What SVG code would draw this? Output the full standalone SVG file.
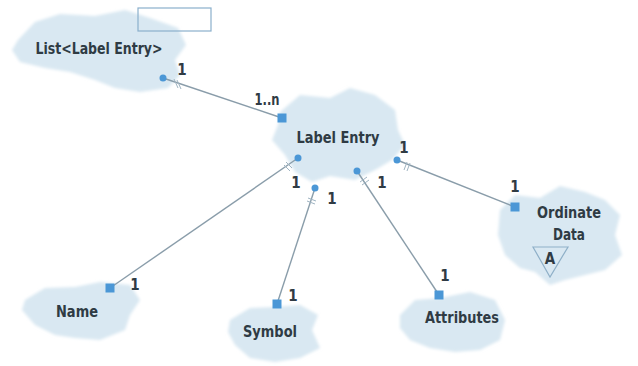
<svg xmlns="http://www.w3.org/2000/svg" width="638" height="366" viewBox="0 0 638 366">
<defs>
<filter id="soft" x="-10%" y="-10%" width="120%" height="120%"><feGaussianBlur stdDeviation="1.6"/></filter>
<style>
.cloud{fill:#d9e8f2;filter:url(#soft)}
.lbl{font-family:"Liberation Sans Narrow","DejaVu Sans Condensed","Liberation Sans",Arial,sans-serif;font-weight:bold;font-size:16px;fill:#2f3b44;text-anchor:middle}
.num{font-family:"Liberation Sans Narrow","DejaVu Sans Condensed","Liberation Sans",Arial,sans-serif;font-weight:bold;font-size:15px;fill:#2f3b44;text-anchor:middle}
.ln{stroke:#8a9daa;stroke-width:1.4;fill:none}
.tick{stroke:#9fb4c2;stroke-width:1;fill:none}
.dot{fill:#4b97d6}
.sq{fill:#4b97d6}
</style>
</defs>
<rect width="638" height="366" fill="#ffffff"/>

<g id="list">
<polygon class="cloud" points="18,40 35,22 60,14 95,16 125,10 150,18 178,28 186,45 175,60 180,75 168,88 140,92 115,88 95,80 70,72 45,68 20,62 12,50"/>
<rect x="138" y="8" width="73" height="23" fill="none" stroke="#8ab0cc" stroke-width="1.2"/>
<text class="lbl" x="99" y="54" textLength="127" lengthAdjust="spacingAndGlyphs">List&lt;Label Entry&gt;</text>
</g>

<g id="labelentry">
<polygon class="cloud" points="280,112 300,95 330,98 350,88 375,95 395,110 398,130 405,145 392,160 375,170 355,180 330,176 312,182 295,172 285,155 272,140 278,125"/>
<text class="lbl" x="338" y="143" textLength="83" lengthAdjust="spacingAndGlyphs">Label Entry</text>
</g>

<g id="ordinate">
<polygon class="cloud" points="500,210 515,195 540,198 560,186 585,192 605,200 620,215 615,235 622,255 605,270 585,275 565,280 550,285 535,272 520,268 505,255 498,235"/>
<text class="lbl" x="569" y="218" textLength="64" lengthAdjust="spacingAndGlyphs">Ordinate</text>
<text class="lbl" x="569" y="240" textLength="32" lengthAdjust="spacingAndGlyphs">Data</text>
<polygon points="533,247 568,247 550,277" fill="none" stroke="#8fb0c8" stroke-width="1.2"/>
<text class="num" x="550" y="264">A</text>
</g>

<g id="name">
<polygon class="cloud" points="25,300 45,288 75,287 100,282 130,285 140,300 130,315 125,330 100,340 75,338 55,335 35,325 22,310"/>
<text class="lbl" x="77" y="317" textLength="42" lengthAdjust="spacingAndGlyphs">Name</text>
</g>

<g id="symbol">
<polygon class="cloud" points="230,320 250,308 275,307 300,305 318,315 312,330 320,348 300,358 275,362 250,358 235,345 228,332"/>
<text class="lbl" x="270" y="337" textLength="54" lengthAdjust="spacingAndGlyphs">Symbol</text>
</g>

<g id="attributes">
<polygon class="cloud" points="400,315 415,300 440,298 470,292 495,300 505,320 500,340 480,350 455,352 430,348 410,340 400,328"/>
<text class="lbl" x="462" y="323" textLength="74" lengthAdjust="spacingAndGlyphs">Attributes</text>
</g>

<g id="connectors">
<line class="ln" x1="163" y1="78" x2="282" y2="118"/>
<line class="ln" x1="298" y1="158" x2="110" y2="288"/>
<line class="ln" x1="315" y1="188" x2="277" y2="304"/>
<line class="ln" x1="357" y1="171" x2="439" y2="295"/>
<line class="ln" x1="397" y1="160" x2="515" y2="207"/>
<path class="tick" d="M174,79 L178,88 M177,80 L181,89"/>
<path class="tick" d="M286,162 L292,168 M284,165 L290,171"/>
<path class="tick" d="M308,198 L316,201 M307,201 L315,204"/>
<path class="tick" d="M360,182 L367,177 M362,185 L369,180"/>
<path class="tick" d="M407,162 L404,170 M410,163 L407,171"/>
<circle class="dot" cx="163" cy="78" r="3.5"/>
<circle class="dot" cx="298" cy="158" r="3.5"/>
<circle class="dot" cx="315" cy="188" r="3.5"/>
<circle class="dot" cx="357" cy="171" r="3.5"/>
<circle class="dot" cx="397" cy="160" r="3.5"/>
<rect class="sq" x="277.5" y="113.5" width="9" height="9"/>
<rect class="sq" x="105.5" y="283.5" width="9" height="9"/>
<rect class="sq" x="272.5" y="299.5" width="9" height="9"/>
<rect class="sq" x="434.5" y="290.5" width="9" height="9"/>
<rect class="sq" x="510.5" y="202.5" width="9" height="9"/>
<text class="num" x="182" y="75">1</text>
<text class="num" x="267" y="105" textLength="25" lengthAdjust="spacingAndGlyphs">1..n</text>
<text class="num" x="296" y="188">1</text>
<text class="num" x="332" y="204">1</text>
<text class="num" x="382" y="188">1</text>
<text class="num" x="404" y="153">1</text>
<text class="num" x="515" y="192">1</text>
<text class="num" x="445" y="281">1</text>
<text class="num" x="293" y="301">1</text>
<text class="num" x="135" y="290">1</text>
</g>
</svg>
